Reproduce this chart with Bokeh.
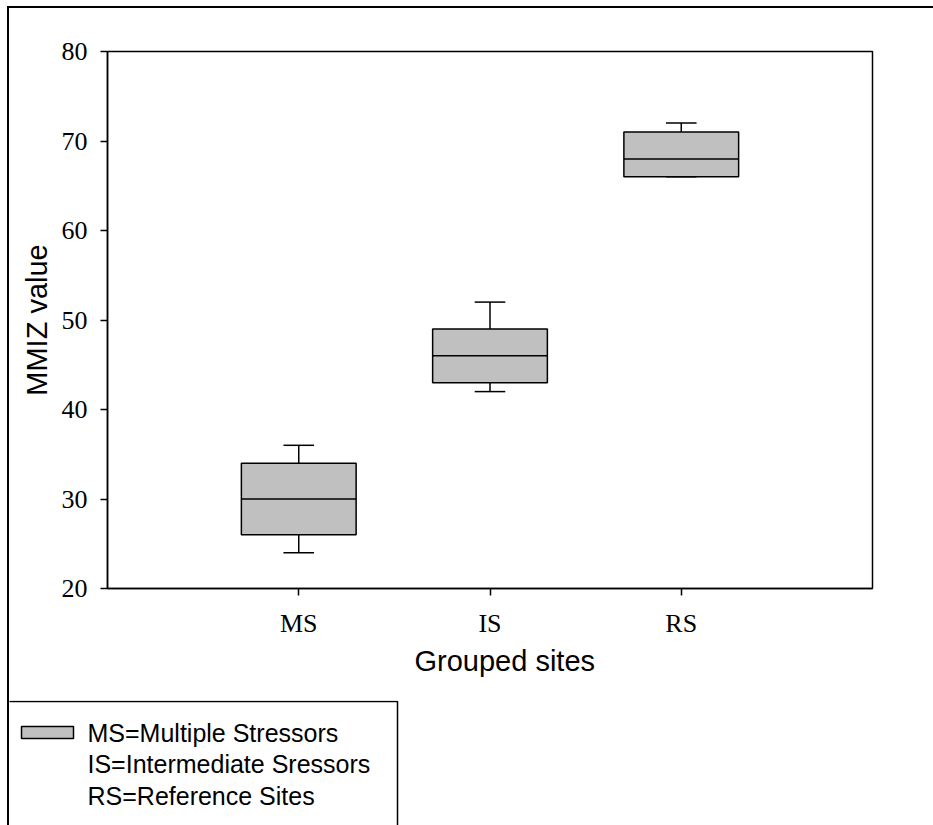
from bokeh.plotting import figure
from bokeh.layouts import column
from bokeh.models import Range1d, FixedTicker, Label, BoxAnnotation, Title
from bokeh.embed import file_html
from bokeh.resources import INLINE

# Site groups and MMIZ box-plot statistics
groups = ["MS", "IS", "RS"]
group_pos = [1, 2, 3]
whisker_low = [24, 42, 66]
q1 = [26, 43, 66]
median = [30, 46, 68]
q3 = [34, 49, 71]
whisker_high = [36, 52, 72]
y_ticks = [20, 30, 40, 50, 60, 70, 80]
legend_lines = ["MS=Multiple Stressors", "IS=Intermediate Sressors", "RS=Reference Sites"]

BOX_W = 0.6
CAP_W = 0.16
FILL = "#c0c0c0"
SERIF = "Liberation Serif"
SANS = "Liberation Sans"
LW = 1.5

# ---------------- main box plot ----------------
p = figure(width=924, height=692, output_backend="svg", toolbar_location=None,
           x_range=Range1d(0, 4), y_range=Range1d(20, 80),
           min_border_left=98, min_border_right=61,
           min_border_top=43, min_border_bottom=112)
p.frame_align = False
p.grid.visible = False
p.outline_line_color = "black"
p.outline_line_width = LW
p.background_fill_color = "white"
p.border_fill_color = "white"

# whisker stems and caps
p.segment(x0=group_pos, y0=q3, x1=group_pos, y1=whisker_high, line_color="black", line_width=LW)
p.segment(x0=group_pos, y0=q1, x1=group_pos, y1=whisker_low, line_color="black", line_width=LW)
p.segment(x0=[x - CAP_W / 2 for x in group_pos], y0=whisker_high,
          x1=[x + CAP_W / 2 for x in group_pos], y1=whisker_high, line_color="black", line_width=LW)
p.segment(x0=[x - CAP_W / 2 for x in group_pos], y0=whisker_low,
          x1=[x + CAP_W / 2 for x in group_pos], y1=whisker_low, line_color="black", line_width=LW)

# boxes and medians
p.vbar(x=group_pos, width=BOX_W, bottom=q1, top=q3, fill_color=FILL,
       line_color="black", line_width=LW)
p.segment(x0=[x - BOX_W / 2 for x in group_pos], y0=median,
          x1=[x + BOX_W / 2 for x in group_pos], y1=median, line_color="black", line_width=LW)

# axes
for ax in (p.xaxis[0], p.yaxis[0]):
    ax.axis_line_color = "black"
    ax.axis_line_width = LW
    ax.major_tick_line_color = "black"
    ax.major_tick_line_width = LW
    ax.major_tick_out = 7
    ax.major_tick_in = 0
    ax.minor_tick_line_color = None
    ax.major_label_text_font = SERIF
    ax.major_label_text_font_size = "26px"
    ax.major_label_text_color = "black"
    ax.major_label_standoff = 13
    ax.axis_label_text_font = SANS
    ax.axis_label_text_font_size = "29px"
    ax.axis_label_text_font_style = "normal"
    ax.axis_label_text_color = "black"

p.yaxis[0].ticker = FixedTicker(ticks=y_ticks)
p.yaxis[0].axis_label = "MMIZ value"
p.yaxis[0].axis_label_standoff = 6
p.xaxis[0].ticker = FixedTicker(ticks=group_pos)
p.xaxis[0].major_label_overrides = {pos: g for pos, g in zip(group_pos, groups)}

# x title sits a little right of the frame centre
p.add_layout(Title(text="Grouped sites", align="left", offset=307, vertical_align="top",
                   standoff=8, text_font=SANS, text_font_size="29px",
                   text_font_style="normal", text_color="black"), "below")

# ---------------- key panel ----------------
KEY_W, KEY_H = 924, 125
q = figure(width=KEY_W, height=KEY_H, output_backend="svg", toolbar_location=None,
           x_range=Range1d(0, KEY_W), y_range=Range1d(KEY_H, 0),
           x_axis_location=None, y_axis_location=None, min_border=0)
q.frame_align = False
q.grid.visible = False
q.outline_line_color = None
q.background_fill_color = "white"
q.border_fill_color = "white"

q.add_layout(BoxAnnotation(left=-10, right=388, top=1, bottom=KEY_H + 20,
                           left_units="canvas", right_units="canvas",
                           top_units="canvas", bottom_units="canvas",
                           fill_alpha=0, line_color="black", line_alpha=1.0, line_width=LW))
q.add_layout(BoxAnnotation(left=12, right=64, top=26, bottom=38,
                           left_units="canvas", right_units="canvas",
                           top_units="canvas", bottom_units="canvas",
                           fill_color=FILL, fill_alpha=1.0, line_color="black",
                           line_alpha=1.0, line_width=LW))
for i, txt in enumerate(legend_lines):
    q.add_layout(Label(x=78, y=32 + i * 31.5, x_units="canvas", y_units="canvas", text=txt,
                       text_font=SANS, text_font_size="25px", text_align="left",
                       text_baseline="middle", text_color="black"))

page = column(p, q, spacing=0,
              styles={"margin-left": "7px", "margin-top": "6px",
                      "border-left": "2px solid black", "border-top": "2px solid black"})

open("out.html", "w").write(file_html(page, INLINE))
